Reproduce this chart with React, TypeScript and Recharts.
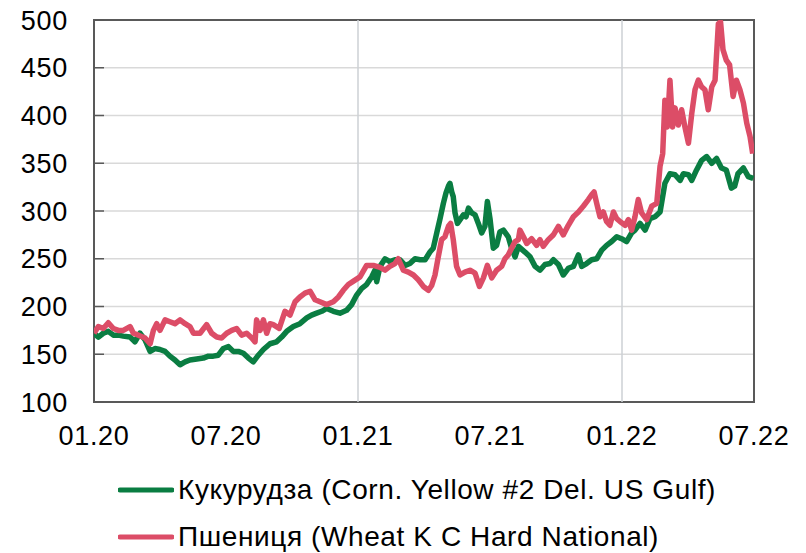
import React from "react";
import {
  LineChart,
  Line,
  XAxis,
  YAxis,
  CartesianGrid,
  ReferenceLine,
  ReferenceArea,
  Legend,
} from "recharts";

// x position in months since 01.2020
const cornMonths = [0,0.2,0.42,0.65,0.88,1.11,1.33,1.64,1.86,2.09,2.32,2.55,2.77,3,3.23,3.45,3.68,3.91,4.14,4.36,4.67,4.97,5.2,5.42,5.65,5.88,6.11,6.33,6.56,6.79,7.02,7.24,7.47,7.7,8,8.3,8.53,8.76,9.06,9.36,9.67,9.89,10.12,10.35,10.58,10.88,11.18,11.48,11.71,11.94,12.17,12.39,12.62,12.77,12.85,13,13.23,13.45,13.68,13.91,14.14,14.36,14.59,14.82,15.05,15.27,15.42,15.58,15.73,15.88,16,16.11,16.18,16.26,16.33,16.41,16.52,16.64,16.79,16.91,17.02,17.17,17.32,17.47,17.62,17.77,17.88,18,18.15,18.3,18.45,18.61,18.83,18.98,19.14,19.29,19.59,19.82,20.05,20.27,20.5,20.73,20.88,21.11,21.33,21.56,21.79,22.02,22.17,22.39,22.62,22.85,23.08,23.3,23.53,23.76,23.98,24.21,24.44,24.59,24.82,25.05,25.27,25.5,25.73,25.95,26.18,26.41,26.64,26.79,27.02,27.17,27.39,27.62,27.85,28.08,28.3,28.52,28.74,28.97,29.12,29.27,29.52,29.74,29.97];
const cornValues = [172,168,172,174,170,170,169,168,163,172,165,153,156,155,153,148,144,139,142,144,145,146,148,148,149,156,158,153,153,151,146,142,149,155,161,163,168,174,179,182,188,191,193,195,198,195,193,196,202,212,219,223,231,238,226,242,250,247,249,249,243,245,250,249,249,257,261,277,292,308,319,326,329,320,315,298,287,291,296,294,303,298,296,287,277,284,310,292,261,264,278,280,273,261,252,263,257,252,242,238,244,245,249,244,233,240,242,254,242,245,249,250,259,264,268,273,271,268,277,280,287,280,292,294,299,329,339,338,332,339,338,332,343,353,357,350,355,345,343,324,326,339,345,336,334];

const wheatMonths = [0,0.2,0.42,0.65,0.88,1.11,1.33,1.64,1.79,2.02,2.32,2.55,2.7,2.85,3,3.23,3.45,3.68,3.91,4.14,4.36,4.52,4.82,5.12,5.35,5.58,5.8,6.03,6.26,6.48,6.71,6.94,7.17,7.32,7.39,7.55,7.7,7.85,8,8.15,8.42,8.68,8.91,9.14,9.36,9.59,9.82,10.05,10.27,10.58,10.88,11.11,11.33,11.56,11.76,12.09,12.39,12.7,13,13.23,13.45,13.68,13.83,14.06,14.29,14.52,14.74,14.97,15.2,15.35,15.5,15.65,15.8,15.95,16.11,16.21,16.33,16.48,16.64,16.86,17.09,17.32,17.52,17.7,17.88,18.08,18.3,18.53,18.68,18.83,18.98,19.14,19.29,19.36,19.52,19.67,19.89,20.12,20.27,20.42,20.65,20.88,21.11,21.33,21.56,21.79,22.02,22.24,22.47,22.62,22.73,22.85,23,23.15,23.3,23.45,23.61,23.76,23.91,24.14,24.29,24.44,24.59,24.74,24.89,25.12,25.35,25.58,25.73,25.85,25.95,26.06,26.18,26.3,26.41,26.56,26.71,26.86,27.02,27.17,27.32,27.47,27.62,27.77,27.92,28.08,28.23,28.38,28.48,28.59,28.74,28.89,29.05,29.2,29.36,29.52,29.67,29.82,29.94];
const wheatValues = [172,179,177,183,177,175,175,179,172,170,167,161,175,182,175,186,184,182,186,182,179,172,172,181,172,168,167,172,175,177,170,172,167,163,186,175,186,172,182,181,177,195,191,205,210,214,216,207,205,202,205,210,217,223,226,231,243,243,241,238,242,245,250,238,236,233,228,221,217,222,233,252,270,273,284,287,270,242,233,236,238,235,221,230,243,230,238,242,250,254,261,268,270,280,273,266,271,264,270,263,270,275,284,275,285,294,299,305,312,317,320,308,294,299,289,285,299,292,289,285,291,280,294,312,298,291,305,308,347,360,416,388,437,388,408,390,406,388,371,402,427,437,430,427,406,430,437,496,498,469,458,453,420,437,427,413,392,378,360];

const xTicks = [0, 6, 12, 18, 24, 30];
const xTickLabels = ["01.20", "07.20", "01.21", "07.21", "01.22", "07.22"];
const yTicks = [100, 150, 200, 250, 300, 350, 400, 450, 500];
const yearLines = [12, 24];

const seriesNames = [
  "Кукурудза (Corn. Yellow #2 Del. US Gulf)",
  "Пшениця (Wheat K C Hard National)",
];
const seriesColors = ["#0a7d42", "#dc4d67"];

const cornData = cornMonths.map((m, i) => ({ m, v: cornValues[i] }));
const wheatData = wheatMonths.map((m, i) => ({ m, v: wheatValues[i] }));

const FONT = "'Liberation Sans', Arial, sans-serif";

const LegendContent = () => (
  <div style={{ fontFamily: FONT, fontSize: 28, color: "#000" }}>
    {seriesNames.map((name, i) => (
      <div
        key={name}
        style={{ display: "flex", alignItems: "center", height: 47, whiteSpace: "nowrap" }}
      >
        <div style={{ width: 118 }} />
        <svg width={56} height={8} style={{ display: "block" }}>
          <line x1={2} y1={4} x2={54} y2={4} stroke={seriesColors[i]} strokeWidth={5} strokeLinecap="round" />
        </svg>
        <span style={{ marginLeft: 4, letterSpacing: 0.6 }}>{name}</span>
      </div>
    ))}
  </div>
);

export default function App() {
  return (
    <div style={{ position: "absolute", left: 0, top: 0, background: "#fff" }}>
      <LineChart
        width={806}
        height={553}
        margin={{ top: 20, right: 52, bottom: 111, left: 0 }}
      >
        <CartesianGrid horizontal={true} vertical={false} stroke="#d9d9d9" strokeWidth={1.5} />
        {yearLines.map((x) => (
          <ReferenceLine key={x} x={x} stroke="#cdd1d4" strokeWidth={1.5} />
        ))}
        <XAxis
          dataKey="m"
          type="number"
          domain={[0, 30]}
          ticks={xTicks}
          tickFormatter={(v: number) => xTickLabels[xTicks.indexOf(v)]}
          axisLine={false}
          tickLine={false}
          tickSize={0}
          tickMargin={24}
          height={40}
          interval={0}
          allowDataOverflow
          tick={{ fill: "#000", fontSize: 27, fontFamily: FONT, letterSpacing: 0.7 }}
        />
        <YAxis
          type="number"
          domain={[100, 500]}
          ticks={yTicks}
          width={94}
          axisLine={false}
          tickLine={{ stroke: "#595959", strokeWidth: 1.5 }}
          tickSize={-10}
          tickMargin={36}
          interval={0}
          allowDataOverflow
          tick={{ fill: "#000", fontSize: 27, fontFamily: FONT, letterSpacing: 0.7 }}
        />
        <ReferenceArea
          x1={0}
          x2={30}
          y1={100}
          y2={500}
          fill="none"
          fillOpacity={0}
          stroke="#595959"
          strokeWidth={2}
        />
        <Line
          data={cornData}
          dataKey="v"
          name={seriesNames[0]}
          stroke={seriesColors[0]}
          strokeWidth={5.5}
          dot={false}
          type="linear"
          isAnimationActive={false}
          strokeLinejoin="round"
        />
        <Line
          data={wheatData}
          dataKey="v"
          name={seriesNames[1]}
          stroke={seriesColors[1]}
          strokeWidth={5.5}
          dot={false}
          type="linear"
          isAnimationActive={false}
          strokeLinejoin="round"
        />
        <Legend
          layout="vertical"
          align="center"
          verticalAlign="middle"
          content={<LegendContent />}
          wrapperStyle={{ top: 466, left: 0, width: 806, bottom: "auto" }}
        />
      </LineChart>
    </div>
  );
}
